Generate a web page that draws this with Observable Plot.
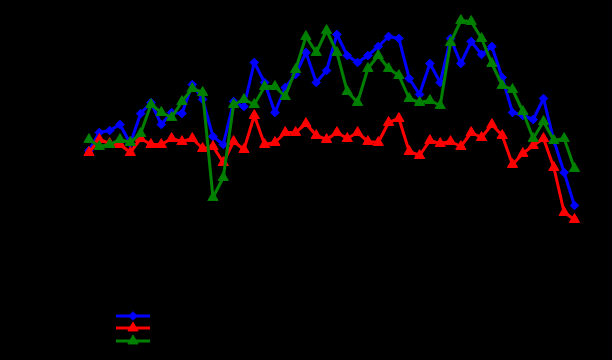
<!DOCTYPE html>
<html>
<head>
<meta charset="utf-8">
<script src="https://cdn.jsdelivr.net/npm/d3@7"></script>
<script src="https://cdn.jsdelivr.net/npm/@observablehq/plot@0.6"></script>
<style>
  html, body { margin: 0; padding: 0; background: #000; }
  #wrap { position: relative; width: 612px; height: 360px; background: #000; font-family: "DejaVu Sans", sans-serif; }
  #legend { position: absolute; left: 116px; top: 309.5px; color: #000; font-size: 11px; }
  .row { display: flex; align-items: center; height: 12.5px; }
  .row span { margin-left: 8px; color: #000; }
</style>
</head>
<body>
<div id="wrap"></div>
<script>
// Period index (x categories)
const periods = d3.range(1, 49);
const seriesNames = ["Series 1", "Series 2", "Series 3"];
const seriesColors = ["#0000ff", "#ff0000", "#008000"];
const seriesSymbols = ["diamond2", "triangle", "triangle"];

const blueValues = [90,108,110,116,97,127,138,116,128,127,156,141,104,96,139,134,178,158,128,153,166,188,158,170,206,185,178,185,194,204,202,162,146,177,158,202,177,199,186,194,163,128,125,121,142,100,68,35];
const redValues = [88,101,97,96,88,102,96,96,102,99,102,92,94,78,99,91,125,96,98,108,108,117,105,101,108,102,108,99,98,118,122,89,85,100,97,99,94,108,103,116,105,76,87,95,102,73,28,21];
const greenValues = [101,94,96,101,98,107,136,128,123,139,152,148,43,63,136,141,136,154,154,144,171,204,188,210,188,149,138,172,185,172,165,142,138,140,135,198,220,219,202,177,155,151,129,102,119,100,102,72];

const allValues = [blueValues, redValues, greenValues];
const data = [];
allValues.forEach((vals, s) => vals.forEach((v, i) => data.push({period: periods[i], value: v, series: seriesNames[s]})));

const markerR = [3.9, 3.8, 3.8];
const marks = [];
seriesNames.forEach((name, s) => {
  const d = data.filter(r => r.series === name);
  marks.push(Plot.line(d, {x: "period", y: "value", stroke: seriesColors[s], strokeWidth: 3}));
  marks.push(Plot.dot(d, {x: "period", y: "value", fill: seriesColors[s], stroke: seriesColors[s], strokeWidth: 1,
    symbol: seriesSymbols[s], r: markerR[s]}));
});

const chart = Plot.plot({
  width: 612,
  height: 360,
  marginLeft: 88.5,
  marginRight: 38,
  marginTop: 0,
  marginBottom: 120,
  style: {background: "#000", color: "#000", fontSize: "11px"},
  x: {domain: [1, 48], label: null, ticks: [1, 12, 24, 36, 48]},
  y: {domain: [0, 240], label: null, ticks: 5},
  marks: [Plot.axisX({color: "#000"}), Plot.axisY({color: "#000"}), ...marks]
});
const wrap = document.getElementById("wrap");
wrap.appendChild(chart);

// Legend
const legend = document.createElement("div");
legend.id = "legend";
seriesNames.forEach((name, s) => {
  const row = document.createElement("div");
  row.className = "row";
  const svg = d3.create("svg").attr("width", 34).attr("height", 12);
  svg.append("line").attr("x1", 0).attr("x2", 34).attr("y1", 6).attr("y2", 6)
    .attr("stroke", seriesColors[s]).attr("stroke-width", 3);
  const sym = s === 0 ? d3.symbolDiamond2 : d3.symbolTriangle;
  svg.append("path").attr("d", d3.symbol(sym, Math.PI * markerR[s] * markerR[s])())
    .attr("transform", "translate(17,6)").attr("fill", seriesColors[s]).attr("stroke", seriesColors[s]);
  row.appendChild(svg.node());
  const label = document.createElement("span");
  label.textContent = name;
  row.appendChild(label);
  legend.appendChild(row);
});
wrap.appendChild(legend);
</script>
</body>
</html>
